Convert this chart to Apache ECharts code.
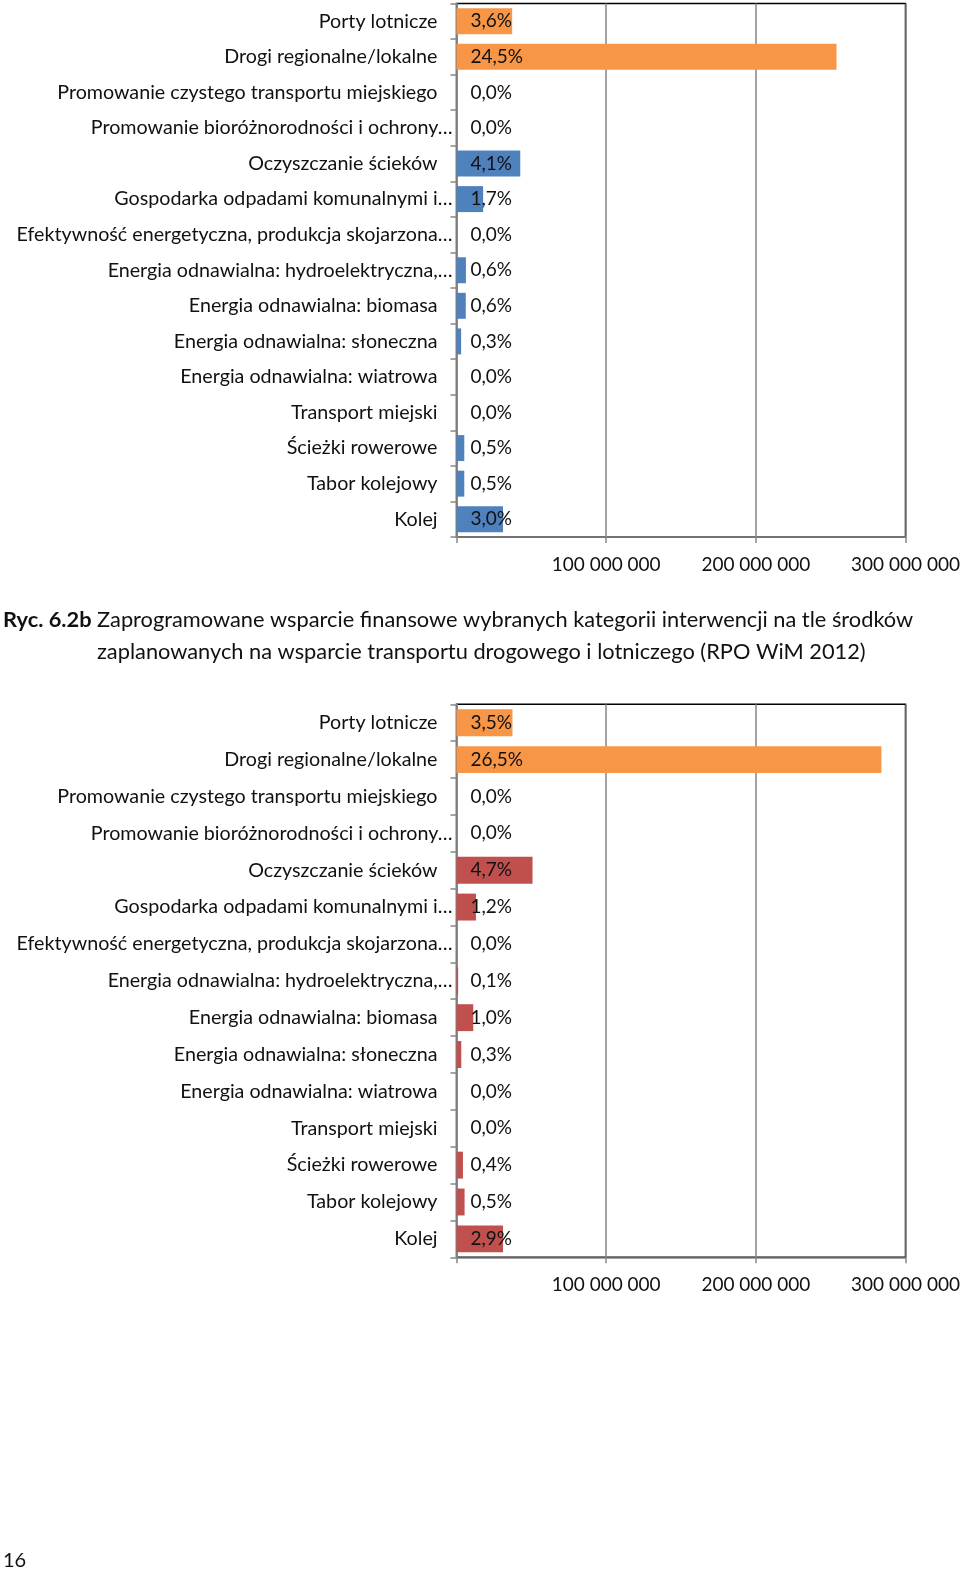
<!DOCTYPE html>
<html><head><meta charset="utf-8">
<script src="https://cdn.jsdelivr.net/npm/echarts@6/dist/echarts.min.js"></script>
<style>html,body{margin:0;padding:0;background:#fff;overflow:hidden}#c{width:960px;height:1570px}</style>
</head><body><div id="c"></div>
<script>
const categories = [
  "Porty lotnicze",
  "Drogi regionalne/lokalne",
  "Promowanie czystego transportu miejskiego",
  "Promowanie bioróżnorodności i ochrony…",
  "Oczyszczanie ścieków",
  "Gospodarka odpadami komunalnymi i…",
  "Efektywność energetyczna, produkcja skojarzona…",
  "Energia odnawialna: hydroelektryczna,…",
  "Energia odnawialna: biomasa",
  "Energia odnawialna: słoneczna",
  "Energia odnawialna: wiatrowa",
  "Transport miejski",
  "Ścieżki rowerowe",
  "Tabor kolejowy",
  "Kolej"
];
// values in PLN
const valuesA = [37200000, 253900000, 0, 0, 42600000, 17800000, 0, 6300000, 6200000, 3100000, 0, 0, 5200000, 5200000, 31100000];
const percentA = ["3,6%","24,5%","0,0%","0,0%","4,1%","1,7%","0,0%","0,6%","0,6%","0,3%","0,0%","0,0%","0,5%","0,5%","3,0%"];
const valuesB = [37400000, 283900000, 0, 0, 50800000, 13000000, 0, 1100000, 11200000, 3200000, 0, 0, 4300000, 5400000, 31100000];
const percentB = ["3,5%","26,5%","0,0%","0,0%","4,7%","1,2%","0,0%","0,1%","1,0%","0,3%","0,0%","0,0%","0,4%","0,5%","2,9%"];
const xTicks = [0, 100000000, 200000000, 300000000];
const titleBold = "Ryc. 6.2b";
const titleLine1 = "Zaprogramowane wsparcie finansowe wybranych kategorii interwencji na tle środków";
const titleLine2 = "zaplanowanych na wsparcie transportu drogowego i lotniczego (RPO WiM 2012)";
const pageNumber = "16";

const FONT = "Lato";
const FS = 19;
const FSY = 19.7;
const FST = 21.8;
const ORANGE = "#F79646", BLUE = "#4F81BD", RED = "#C0504D";
const GRAY = "#868686";

function fmtNum(v){ if(v===0) return ""; return String(v).replace(/\B(?=(\d{3})+(?!\d))/g, " "); }

function grid(top, height){ return {left:456.5, width:449, top:top, height:height, show:true, borderColor:"#000", borderWidth:1.5, containLabel:false, outerBoundsMode:"none"}; }
function xAxis(gi){ return {type:"value", gridIndex:gi, min:xTicks[0], max:xTicks[xTicks.length-1], interval:xTicks[1]-xTicks[0],
  axisLine:{show:true, lineStyle:{color:GRAY, width:1.5}},
  axisTick:{show:true, length:6, lineStyle:{color:GRAY, width:1.5}},
  splitLine:{show:true, lineStyle:{color:GRAY, width:1.5}},
  axisLabel:{show:true, margin:18, fontFamily:FONT, fontSize:FS, color:"#111", formatter:fmtNum, hideOverlap:false, showMinLabel:true}}; }
function yAxis(gi){ return {type:"category", gridIndex:gi, data:categories, inverse:true,
  axisLine:{show:true, lineStyle:{color:GRAY, width:1.5}},
  axisTick:{show:true, length:6, lineStyle:{color:GRAY, width:1.5}},
  axisLabel:{margin:4, interval:0, fontFamily:FONT, fontSize:FSY, color:"#111",
    formatter:function(v){ return v.endsWith("…") ? "{n|"+v+"}" : "{n|"+v+"}{g| }"; },
    rich:{n:{fontFamily:FONT, fontSize:FSY, color:"#111"}, g:{width:15, fontSize:FSY}}}}; }
function barSeries(gi, vals, pct, base){ return {type:"bar", xAxisIndex:gi, yAxisIndex:gi, data:vals, barCategoryGap:"27%",
  itemStyle:{color:function(p){ return p.dataIndex<2 ? ORANGE : base; }},
  label:{show:true, position:"insideLeft", distance:14, fontFamily:FONT, fontSize:FS, color:"#111",
    formatter:function(p){ return pct[p.dataIndex]; }}}; }

const chart = echarts.init(document.getElementById("c"), null, {renderer:"canvas"});
chart.setOption({
  animation:false,
  grid:[grid(3.5, 533.5), grid(704.3, 553)],
  xAxis:[xAxis(0), xAxis(1)],
  yAxis:[yAxis(0), yAxis(1)],
  series:[barSeries(0, valuesA, percentA, BLUE), barSeries(1, valuesB, percentB, RED)],
  graphic:[
    {type:"text", left:3, top:609, style:{text:titleBold, fontFamily:FONT, fontSize:FST, fontWeight:"bold", fill:"#111"}},
    {type:"text", left:97, top:609, style:{text:titleLine1, fontFamily:FONT, fontSize:FST, fill:"#111"}},
    {type:"text", left:97, top:641, style:{text:titleLine2, fontFamily:FONT, fontSize:FST, fill:"#111"}},
    {type:"text", left:3, top:1551, style:{text:pageNumber, fontFamily:FONT, fontSize:20, fill:"#111"}}
  ]
});
</script></body></html>
